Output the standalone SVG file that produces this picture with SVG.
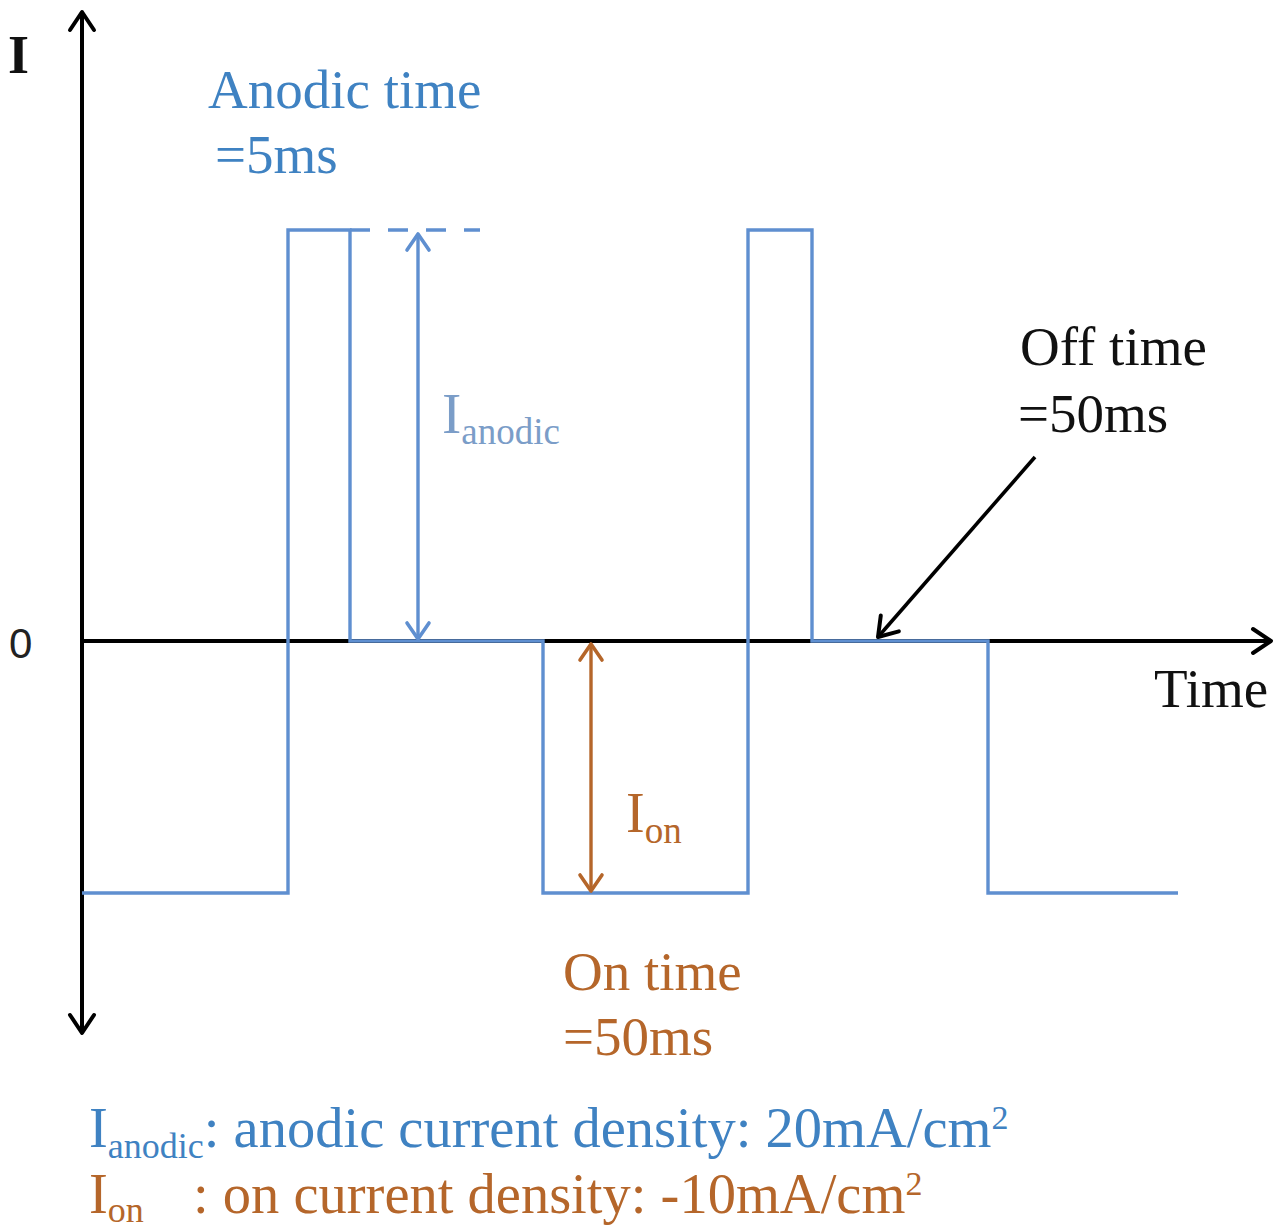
<svg xmlns="http://www.w3.org/2000/svg" width="1280" height="1232" viewBox="0 0 1280 1232">
<style>
.serif{font-family:"Liberation Serif","Times New Roman",serif}
.blue{fill:#3f82c2}
.lblue{fill:#7b9dc8}
.brown{fill:#b5662a}
.black{fill:#111}
.wave{fill:none;stroke:#5f8fd0;stroke-width:3.4;stroke-linejoin:miter}
.axis{fill:none;stroke:#000;stroke-width:4}
</style>
<defs>
<marker id="ahBlack" viewBox="0 0 24 30" refX="21" refY="15" markerWidth="24" markerHeight="30" markerUnits="userSpaceOnUse" orient="auto-start-reverse">
<path d="M3,3 L21,15 L3,27" fill="none" stroke="#000" stroke-width="4" stroke-linecap="round" stroke-linejoin="round"/>
</marker>
<marker id="ahBlue" viewBox="0 0 22 28" refX="19" refY="14" markerWidth="22" markerHeight="28" markerUnits="userSpaceOnUse" orient="auto-start-reverse">
<path d="M3,3 L19,14 L3,25" fill="none" stroke="#5f8fd0" stroke-width="3.6" stroke-linecap="round" stroke-linejoin="round"/>
</marker>
<marker id="ahBrown" viewBox="0 0 22 28" refX="19" refY="14" markerWidth="22" markerHeight="28" markerUnits="userSpaceOnUse" orient="auto-start-reverse">
<path d="M3,3 L19,14 L3,25" fill="none" stroke="#b5662a" stroke-width="3.6" stroke-linecap="round" stroke-linejoin="round"/>
</marker>
</defs>
<rect width="1280" height="1232" fill="#fff"/>

<g id="axes">
<line class="axis" x1="82" y1="12" x2="82" y2="1033" marker-start="url(#ahBlack)" marker-end="url(#ahBlack)"/>
<line class="axis" x1="82" y1="641" x2="1271" y2="641" marker-end="url(#ahBlack)"/>
</g>

<g id="waveform">
<polyline class="wave" points="82,893 288,893 288,230 350,230 350,641 543,641 543,893 748,893 748,230 812,230 812,641 988,641 988,893 1178,893"/>
<line x1="350" y1="230" x2="480" y2="230" stroke="#5f8fd0" stroke-width="3.4" stroke-dasharray="20 18"/>
</g>

<g id="connectors">
<line x1="418" y1="234" x2="418" y2="639" stroke="#5f8fd0" stroke-width="3.4" marker-start="url(#ahBlue)" marker-end="url(#ahBlue)"/>
<line x1="591" y1="644" x2="591" y2="891" stroke="#b5662a" stroke-width="3.4" marker-start="url(#ahBrown)" marker-end="url(#ahBrown)"/>
<line x1="1035" y1="457" x2="878" y2="637" stroke="#000" stroke-width="3.6" marker-end="url(#ahBlack)"/>
</g>

<g id="label-I">
<text class="serif black" x="8" y="73" font-size="54" font-weight="bold">I</text>
</g>
<g id="label-zero">
<text x="9" y="658" font-family="Liberation Sans, Arial, sans-serif" font-size="42" fill="#222">0</text>
</g>
<g id="label-time">
<text class="serif black" x="1154" y="707" font-size="55">Time</text>
</g>
<g id="label-anodic-time">
<text class="serif blue" x="208" y="108" font-size="55">Anodic time</text>
<text class="serif blue" x="215" y="173" font-size="55">=5ms</text>
</g>
<g id="label-ianodic">
<text class="serif lblue" x="442" y="433" font-size="58">I<tspan font-size="37" dy="11">anodic</tspan></text>
</g>
<g id="label-ion">
<text class="serif brown" x="626" y="832" font-size="56">I<tspan font-size="37" dy="11">on</tspan></text>
</g>
<g id="label-on-time">
<text class="serif brown" x="563" y="990" font-size="55">On time</text>
<text class="serif brown" x="563" y="1055" font-size="55">=50ms</text>
</g>
<g id="label-off-time">
<text class="serif black" x="1020" y="365" font-size="55">Off time</text>
<text class="serif black" x="1018" y="432" font-size="55">=50ms</text>
</g>
<g id="legend">
<text class="serif blue" x="89" y="1147" font-size="56.5">I<tspan font-size="36" dy="11">anodic</tspan><tspan dy="-11">: anodic current density: 20mA/cm</tspan><tspan font-size="34" dy="-18">2</tspan></text>
<text class="serif brown" x="89" y="1213" font-size="56.5">I<tspan font-size="36" dy="9">on</tspan><tspan dy="-9" x="193">: on current density: -10mA/cm</tspan><tspan font-size="34" dy="-18">2</tspan></text>
</g>
</svg>
